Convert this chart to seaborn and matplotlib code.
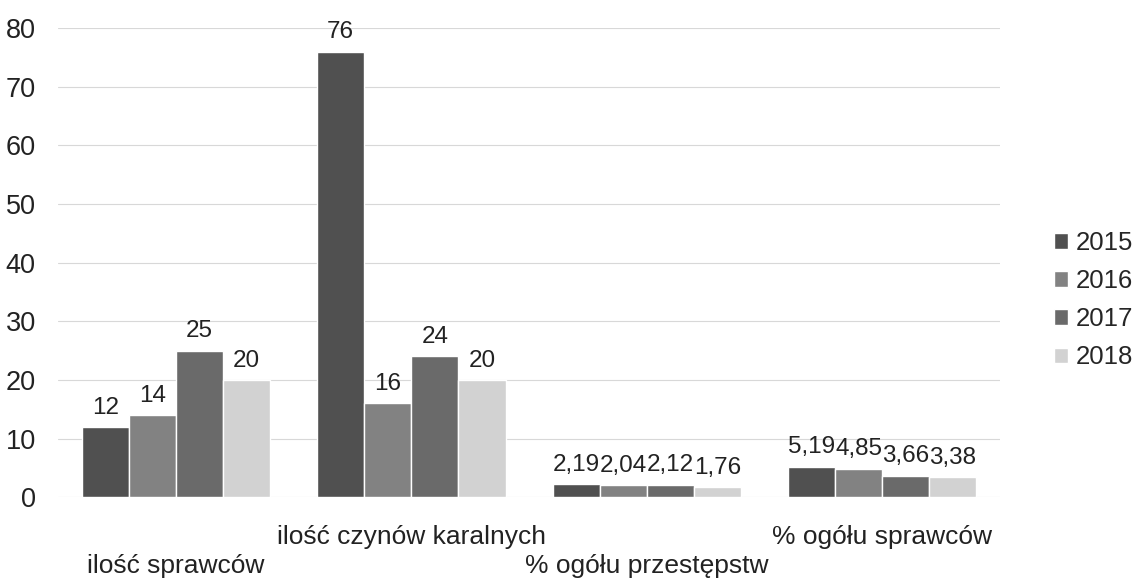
import pandas as pd
import matplotlib.pyplot as plt
import seaborn as sns

# Chart data
categories = ['ilość sprawców', 'ilość czynów karalnych', '% ogółu przestępstw', '% ogółu sprawców']
years = ['2015', '2016', '2017', '2018']
v2015 = [12, 76, 2.19, 5.19]
v2016 = [14, 16, 2.04, 4.85]
v2017 = [25, 24, 2.12, 3.66]
v2018 = [20, 20, 1.76, 3.38]

colors = ['#505050', '#828282', '#6a6a6a', '#d2d2d2']

rows = []
for year, vals in zip(years, [v2015, v2016, v2017, v2018]):
    for cat, v in zip(categories, vals):
        rows.append({'kategoria': cat, 'rok': year, 'wartosc': v})
df = pd.DataFrame(rows)

sns.set_theme(style="white")
plt.rcParams['font.family'] = ['Liberation Sans', 'DejaVu Sans']

fig = plt.figure(figsize=(11.39, 5.87), dpi=100)
ax = fig.add_axes([0.051, 0.153, 0.827, 0.799])

sns.barplot(data=df, x='kategoria', y='wartosc', hue='rok', palette=colors,
            width=0.8, saturation=1, ax=ax, zorder=2)

ax.set_ylim(0, 80)
ax.set_xlim(-0.5, 3.5)
ax.set_yticks(range(0, 81, 10))
ax.yaxis.grid(True, color='#d8d8d8', linewidth=0.8, zorder=0)
ax.set_axisbelow(True)
for s in ax.spines.values():
    s.set_visible(False)

ax.tick_params(axis='y', labelsize=19.5, colors='#222222', pad=10)
ax.tick_params(axis='x', labelsize=19, colors='#222222', length=0, pad=20)
labels = [('\n' + c if i % 2 == 0 else c) for i, c in enumerate(categories)]
ax.set_xticks(range(len(categories)))
ax.set_xticklabels(labels, linespacing=1.25)
ax.set_xlabel('')
ax.set_ylabel('')

for container in ax.containers:
    lbls = []
    for bar in container:
        h = bar.get_height()
        lbls.append(f'{h:.0f}' if h >= 10 else f'{h:.2f}'.replace('.', ','))
    ax.bar_label(container, labels=lbls, padding=6, fontsize=17.5, color='#222222')

leg = ax.legend(loc='center left', bbox_to_anchor=(1.033, 0.42), frameon=False,
                fontsize=18.5, handlelength=0.55, handleheight=0.55, handletextpad=0.3,
                labelspacing=0.55)

fig.savefig('out.png', dpi=100)
